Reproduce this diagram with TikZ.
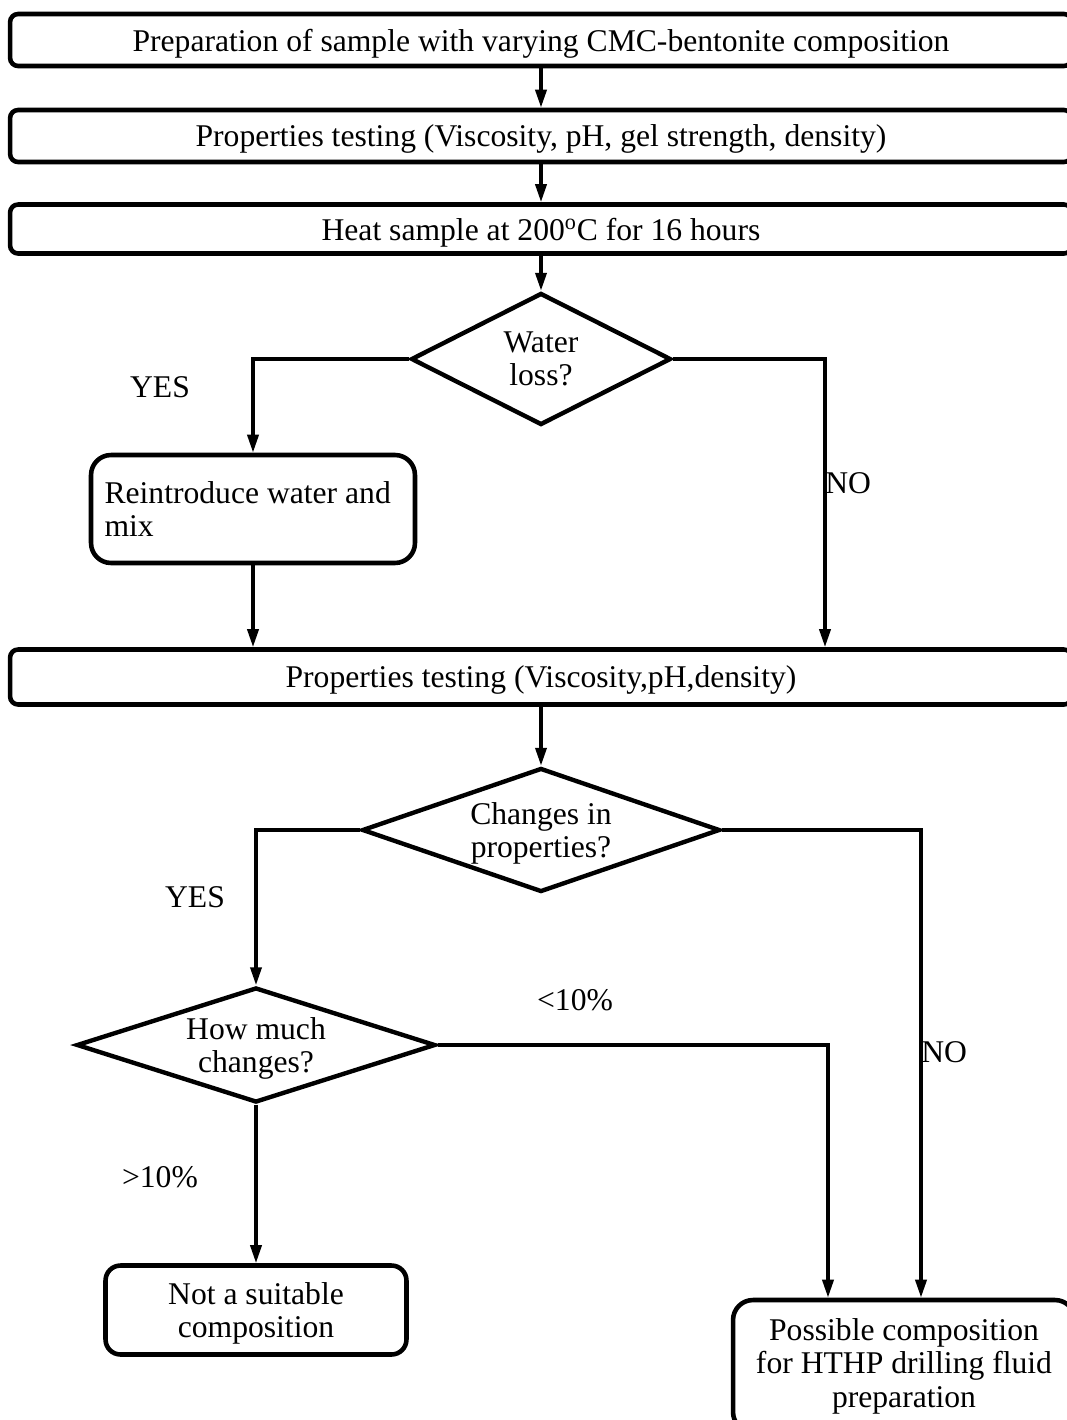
\documentclass[tikz,border=0pt]{standalone}
\usepackage{fontspec}
\setmainfont{Liberation Serif}
\usetikzlibrary{shapes.geometric,arrows.meta}

\begin{document}
\begin{tikzpicture}[x=0.02cm, y=-0.02cm,
    font=\fontsize{18pt}{19pt}\selectfont,
    wide/.style={draw, line width=2.6pt, rounded corners=0.16cm, minimum width=21.24cm, inner sep=0pt, text depth=0pt},
    stepbox/.style={draw, line width=2.6pt, rounded corners=0.35cm, align=center, inner sep=0pt},
    decide/.style={draw, diamond, line width=2.5pt, align=center, inner sep=0pt},
    arr/.style={line width=2pt, -{Triangle[length=0.36cm, width=0.22cm]}},
    link/.style={line width=2pt}]
    \useasboundingbox (0,0) rectangle (1067,1420);
    \clip (0,0) rectangle (1067,1420);

    % Main steps (boxes run off the right edge)
    \node[wide, minimum height=1.04cm] (prep) at (541,40) {Preparation of sample with varying CMC-bentonite composition};
    \node[wide, minimum height=1.04cm] (test1) at (541,136) {Properties testing (Viscosity, pH, gel strength, density)};
    \node[wide, minimum height=0.98cm] (heat) at (541,229) {Heat sample at 200\textsuperscript{o}C for 16 hours};

    % First decision
    \node[decide, aspect=2, minimum width=5.2cm, minimum height=2.64cm] (water) at (541,359) {Water\\loss?};
    \node[stepbox, align=flush left, text width=5.94cm, minimum width=6.48cm, minimum height=2.16cm, rounded corners=0.4cm] (remix) at (253,509) {Reintroduce water and\\mix};

    \node[wide, minimum height=1.1cm] (test2) at (541,677) {Properties testing (Viscosity,pH,density)};

    % Second and third decision
    \node[decide, aspect=2.9, minimum width=7.16cm, minimum height=2.48cm, text depth=0pt] (change) at (541,830) {Changes in\\properties?};
    \node[decide, aspect=3.1, minimum width=7.18cm, minimum height=2.3cm, text depth=0pt] (much) at (256,1045) {How much\\changes?};

    % Outcomes
    \node[stepbox, minimum width=6.02cm, minimum height=1.78cm, rounded corners=0.3cm, text depth=0pt] (bad) at (256,1310) {Not a suitable\\composition};
    \node[stepbox, minimum width=6.84cm, minimum height=2.64cm, rounded corners=0.4cm] (good) at (904,1366) {Possible composition\\for HTHP drilling fluid\\preparation};

    % Columns of the side branches
    \coordinate (noA) at (825,0);
    \coordinate (lessB) at (828,0);
    \coordinate (noB) at (921,0);

    % Connectors
    \draw[arr] (prep) -- (test1);
    \draw[arr] (test1) -- (heat);
    \draw[arr] (heat) -- (water);
    \draw[arr] (water.west) -| (remix.north);
    \draw[arr] (water.east) -| (test2.north -| noA);
    \draw[arr] (remix) -- (remix |- test2.north);
    \draw[arr] (test2) -- (change);
    \draw[arr] (change.west) -| (much.north);
    \draw[arr] (change.east) -| (good.north -| noB);
    \draw[arr] (much.east) -| (good.north -| lessB);
    \draw[arr] (much.south) -- (bad.north);

    % Branch labels
    \node (yesA) at (160,387) {YES};
    \node[anchor=west, inner sep=0pt] (noAl) at (825,483) {NO};
    \node (yesB) at (195,897) {YES};
    \node[anchor=west, inner sep=0pt] (noBl) at (921,1052) {NO};
    \node (lessl) at (575,1000) {<10\%};
    \node (morel) at (160,1177) {>10\%};
\end{tikzpicture}
\end{document}
